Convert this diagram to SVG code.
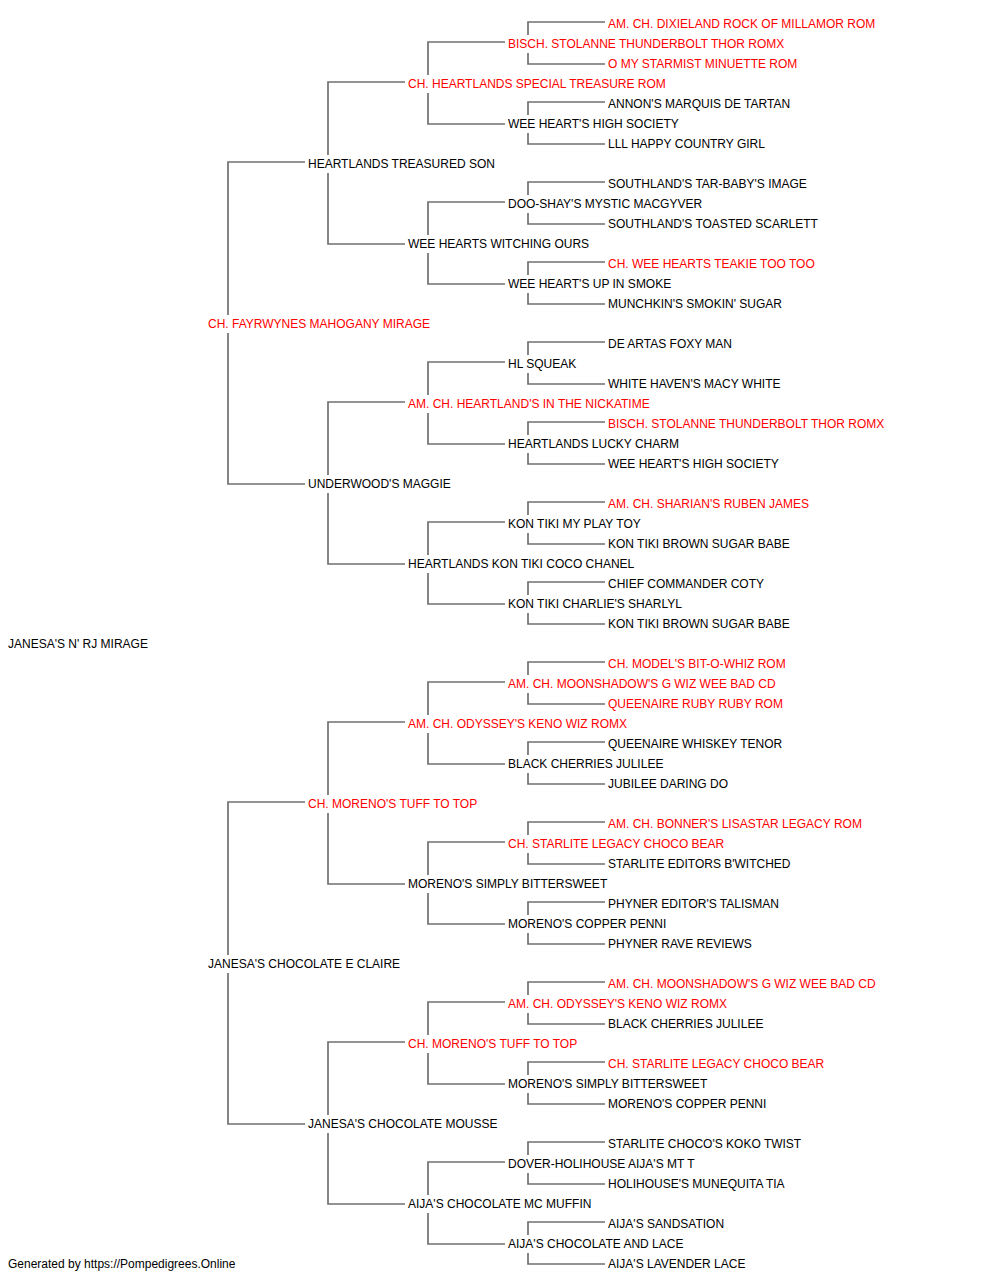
<svg xmlns="http://www.w3.org/2000/svg" width="1000" height="1280" viewBox="0 0 1000 1280">
<style>
text{font-family:"Liberation Sans",Arial,sans-serif;font-size:12px;fill:#000}
.r{fill:#ff0000}
.c path{fill:none;stroke:#707070;stroke-width:1.7}
</style>
<rect width="1000" height="1280" fill="#fff"/>
<g class="c" id="connectors">
<path d="M305 162H228V315M228 333V484H305"/>
<path d="M305 802H228V955M228 973V1124H305"/>
<path d="M405 82H328V155M328 173V244H405"/>
<path d="M405 402H328V475M328 493V564H405"/>
<path d="M405 722H328V795M328 813V884H405"/>
<path d="M405 1042H328V1115M328 1133V1204H405"/>
<path d="M505 42H428V75M428 93V124H505"/>
<path d="M505 202H428V235M428 253V284H505"/>
<path d="M505 362H428V395M428 413V444H505"/>
<path d="M505 522H428V555M428 573V604H505"/>
<path d="M505 682H428V715M428 733V764H505"/>
<path d="M505 842H428V875M428 893V924H505"/>
<path d="M505 1002H428V1035M428 1053V1084H505"/>
<path d="M505 1162H428V1195M428 1213V1244H505"/>
<path d="M605 22H528V35M528 53V64H605"/>
<path d="M605 102H528V115M528 133V144H605"/>
<path d="M605 182H528V195M528 213V224H605"/>
<path d="M605 262H528V275M528 293V304H605"/>
<path d="M605 342H528V355M528 373V384H605"/>
<path d="M605 422H528V435M528 453V464H605"/>
<path d="M605 502H528V515M528 533V544H605"/>
<path d="M605 582H528V595M528 613V624H605"/>
<path d="M605 662H528V675M528 693V704H605"/>
<path d="M605 742H528V755M528 773V784H605"/>
<path d="M605 822H528V835M528 853V864H605"/>
<path d="M605 902H528V915M528 933V944H605"/>
<path d="M605 982H528V995M528 1013V1024H605"/>
<path d="M605 1062H528V1075M528 1093V1104H605"/>
<path d="M605 1142H528V1155M528 1173V1184H605"/>
<path d="M605 1222H528V1235M528 1253V1264H605"/>
</g>
<g id="root"><text x="8" y="648">JANESA'S N' RJ MIRAGE</text></g>
<g id="g1-1"><text class="r" x="208" y="328">CH. FAYRWYNES MAHOGANY MIRAGE</text></g>
<g id="g1-2"><text x="208" y="968">JANESA'S CHOCOLATE E CLAIRE</text></g>
<g id="g2-1"><text x="308" y="168">HEARTLANDS TREASURED SON</text></g>
<g id="g2-2"><text x="308" y="488">UNDERWOOD'S MAGGIE</text></g>
<g id="g2-3"><text class="r" x="308" y="808">CH. MORENO'S TUFF TO TOP</text></g>
<g id="g2-4"><text x="308" y="1128">JANESA'S CHOCOLATE MOUSSE</text></g>
<g id="g3-1"><text class="r" x="408" y="88">CH. HEARTLANDS SPECIAL TREASURE ROM</text></g>
<g id="g3-2"><text x="408" y="248">WEE HEARTS WITCHING OURS</text></g>
<g id="g3-3"><text class="r" x="408" y="408">AM. CH. HEARTLAND'S IN THE NICKATIME</text></g>
<g id="g3-4"><text x="408" y="568">HEARTLANDS KON TIKI COCO CHANEL</text></g>
<g id="g3-5"><text class="r" x="408" y="728">AM. CH. ODYSSEY'S KENO WIZ ROMX</text></g>
<g id="g3-6"><text x="408" y="888">MORENO'S SIMPLY BITTERSWEET</text></g>
<g id="g3-7"><text class="r" x="408" y="1048">CH. MORENO'S TUFF TO TOP</text></g>
<g id="g3-8"><text x="408" y="1208">AIJA'S CHOCOLATE MC MUFFIN</text></g>
<g id="g4-1"><text class="r" x="508" y="48">BISCH. STOLANNE THUNDERBOLT THOR ROMX</text></g>
<g id="g4-2"><text x="508" y="128">WEE HEART'S HIGH SOCIETY</text></g>
<g id="g4-3"><text x="508" y="208">DOO-SHAY'S MYSTIC MACGYVER</text></g>
<g id="g4-4"><text x="508" y="288">WEE HEART'S UP IN SMOKE</text></g>
<g id="g4-5"><text x="508" y="368">HL SQUEAK</text></g>
<g id="g4-6"><text x="508" y="448">HEARTLANDS LUCKY CHARM</text></g>
<g id="g4-7"><text x="508" y="528">KON TIKI MY PLAY TOY</text></g>
<g id="g4-8"><text x="508" y="608">KON TIKI CHARLIE'S SHARLYL</text></g>
<g id="g4-9"><text class="r" x="508" y="688">AM. CH. MOONSHADOW'S G WIZ WEE BAD CD</text></g>
<g id="g4-10"><text x="508" y="768">BLACK CHERRIES JULILEE</text></g>
<g id="g4-11"><text class="r" x="508" y="848">CH. STARLITE LEGACY CHOCO BEAR</text></g>
<g id="g4-12"><text x="508" y="928">MORENO'S COPPER PENNI</text></g>
<g id="g4-13"><text class="r" x="508" y="1008">AM. CH. ODYSSEY'S KENO WIZ ROMX</text></g>
<g id="g4-14"><text x="508" y="1088">MORENO'S SIMPLY BITTERSWEET</text></g>
<g id="g4-15"><text x="508" y="1168">DOVER-HOLIHOUSE AIJA'S MT T</text></g>
<g id="g4-16"><text x="508" y="1248">AIJA'S CHOCOLATE AND LACE</text></g>
<g id="g5-1"><text class="r" x="608" y="28">AM. CH. DIXIELAND ROCK OF MILLAMOR ROM</text></g>
<g id="g5-2"><text class="r" x="608" y="68">O MY STARMIST MINUETTE ROM</text></g>
<g id="g5-3"><text x="608" y="108">ANNON'S MARQUIS DE TARTAN</text></g>
<g id="g5-4"><text x="608" y="148">LLL HAPPY COUNTRY GIRL</text></g>
<g id="g5-5"><text x="608" y="188">SOUTHLAND'S TAR-BABY'S IMAGE</text></g>
<g id="g5-6"><text x="608" y="228">SOUTHLAND'S TOASTED SCARLETT</text></g>
<g id="g5-7"><text class="r" x="608" y="268">CH. WEE HEARTS TEAKIE TOO TOO</text></g>
<g id="g5-8"><text x="608" y="308">MUNCHKIN'S SMOKIN' SUGAR</text></g>
<g id="g5-9"><text x="608" y="348">DE ARTAS FOXY MAN</text></g>
<g id="g5-10"><text x="608" y="388">WHITE HAVEN'S MACY WHITE</text></g>
<g id="g5-11"><text class="r" x="608" y="428">BISCH. STOLANNE THUNDERBOLT THOR ROMX</text></g>
<g id="g5-12"><text x="608" y="468">WEE HEART'S HIGH SOCIETY</text></g>
<g id="g5-13"><text class="r" x="608" y="508">AM. CH. SHARIAN'S RUBEN JAMES</text></g>
<g id="g5-14"><text x="608" y="548">KON TIKI BROWN SUGAR BABE</text></g>
<g id="g5-15"><text x="608" y="588">CHIEF COMMANDER COTY</text></g>
<g id="g5-16"><text x="608" y="628">KON TIKI BROWN SUGAR BABE</text></g>
<g id="g5-17"><text class="r" x="608" y="668">CH. MODEL'S BIT-O-WHIZ ROM</text></g>
<g id="g5-18"><text class="r" x="608" y="708">QUEENAIRE RUBY RUBY ROM</text></g>
<g id="g5-19"><text x="608" y="748">QUEENAIRE WHISKEY TENOR</text></g>
<g id="g5-20"><text x="608" y="788">JUBILEE DARING DO</text></g>
<g id="g5-21"><text class="r" x="608" y="828">AM. CH. BONNER'S LISASTAR LEGACY ROM</text></g>
<g id="g5-22"><text x="608" y="868">STARLITE EDITORS B'WITCHED</text></g>
<g id="g5-23"><text x="608" y="908">PHYNER EDITOR'S TALISMAN</text></g>
<g id="g5-24"><text x="608" y="948">PHYNER RAVE REVIEWS</text></g>
<g id="g5-25"><text class="r" x="608" y="988">AM. CH. MOONSHADOW'S G WIZ WEE BAD CD</text></g>
<g id="g5-26"><text x="608" y="1028">BLACK CHERRIES JULILEE</text></g>
<g id="g5-27"><text class="r" x="608" y="1068">CH. STARLITE LEGACY CHOCO BEAR</text></g>
<g id="g5-28"><text x="608" y="1108">MORENO'S COPPER PENNI</text></g>
<g id="g5-29"><text x="608" y="1148">STARLITE CHOCO'S KOKO TWIST</text></g>
<g id="g5-30"><text x="608" y="1188">HOLIHOUSE'S MUNEQUITA TIA</text></g>
<g id="g5-31"><text x="608" y="1228">AIJA'S SANDSATION</text></g>
<g id="g5-32"><text x="608" y="1268">AIJA'S LAVENDER LACE</text></g>
<g id="footer"><text x="8" y="1268">Generated by https://Pompedigrees.Online</text></g>
</svg>
